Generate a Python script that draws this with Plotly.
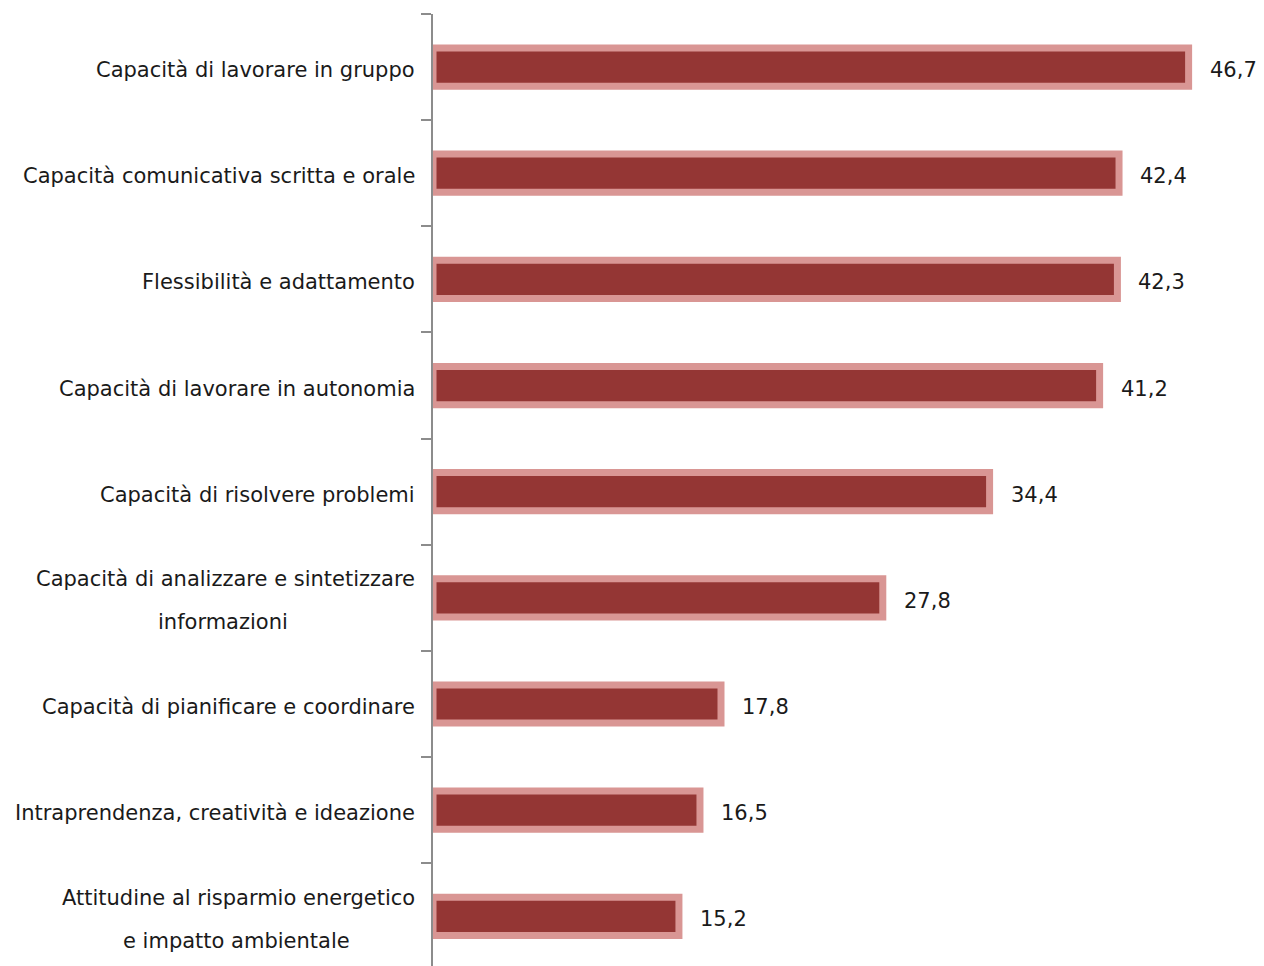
import plotly.graph_objects as go

# Competenze trasversali richieste (%)
labels = [
    ["Capacità di lavorare in gruppo"],
    ["Capacità comunicativa scritta e orale"],
    ["Flessibilità e adattamento"],
    ["Capacità di lavorare in autonomia"],
    ["Capacità di risolvere problemi"],
    ["Capacità di analizzare e sintetizzare", "informazioni"],
    ["Capacità di pianificare e coordinare"],
    ["Intraprendenza, creatività e ideazione"],
    ["Attitudine al risparmio energetico", "e impatto ambientale"],
]
values = [46.7, 42.4, 42.3, 41.2, 34.4, 27.8, 17.8, 16.5, 15.2]

# categorical keys for the y axis
keys = [" ".join(parts) for parts in labels]

FONT = "DejaVu Sans"
FONT_SIZE = 21
TEXT_COLOR = "#1a1a1a"
FILL = "#943634"
EDGE = "#d99694"
AXIS_GREY = "#8c8c8c"

fig = go.Figure(
    go.Bar(
        x=values,
        y=keys,
        orientation="h",
        width=0.36,
        marker=dict(color=FILL, line=dict(color=EDGE, width=7)),
        hoverinfo="skip",
    )
)

annotations = []
LABEL_GAP = -16
LINE_OFFSET = 21.5
text_font = dict(family=FONT, size=FONT_SIZE, color=TEXT_COLOR)
for key, parts in zip(keys, labels):
    if len(parts) == 1:
        annotations.append(dict(
            text=parts[0], x=0, xref="paper", y=key, yref="y",
            xanchor="right", yanchor="middle", xshift=LABEL_GAP, yshift=-3,
            showarrow=False, font=text_font,
        ))
    else:
        # two-line label: first line right-aligned, second centred below it
        annotations.append(dict(
            text=parts[0], x=0, xref="paper", y=key, yref="y",
            xanchor="right", yanchor="middle", xshift=LABEL_GAP,
            yshift=LINE_OFFSET - 3,
            showarrow=False, font=text_font,
        ))
        first_w = 388 if parts[0].startswith("Capacità") else 362
        annotations.append(dict(
            text=parts[1], x=0, xref="paper", y=key, yref="y",
            xanchor="center", yanchor="middle", xshift=LABEL_GAP - first_w / 2,
            yshift=-LINE_OFFSET - 3,
            showarrow=False, font=text_font,
        ))

for key, v in zip(keys, values):
    annotations.append(dict(
        text=f"{v:.1f}".replace(".", ","), x=v, xref="x", y=key, yref="y",
        xanchor="left", yanchor="middle", xshift=19, yshift=-3,
        showarrow=False, font=text_font,
    ))

fig.update_layout(
    width=1264,
    height=966,
    margin=dict(l=433, r=22, t=14, b=0),
    paper_bgcolor="white",
    plot_bgcolor="white",
    showlegend=False,
    annotations=annotations,
    xaxis=dict(range=[0, 50], visible=False, fixedrange=True),
    yaxis=dict(
        type="category",
        categoryorder="array",
        categoryarray=keys,
        range=[8.468, -0.5],
        showticklabels=False,
        tickson="boundaries",
        ticks="outside",
        ticklen=10,
        tickwidth=1.5,
        tickcolor=AXIS_GREY,
        showline=True,
        linecolor=AXIS_GREY,
        linewidth=2,
        showgrid=False,
        zeroline=False,
        fixedrange=True,
    ),
)

fig.write_html("out.html")
